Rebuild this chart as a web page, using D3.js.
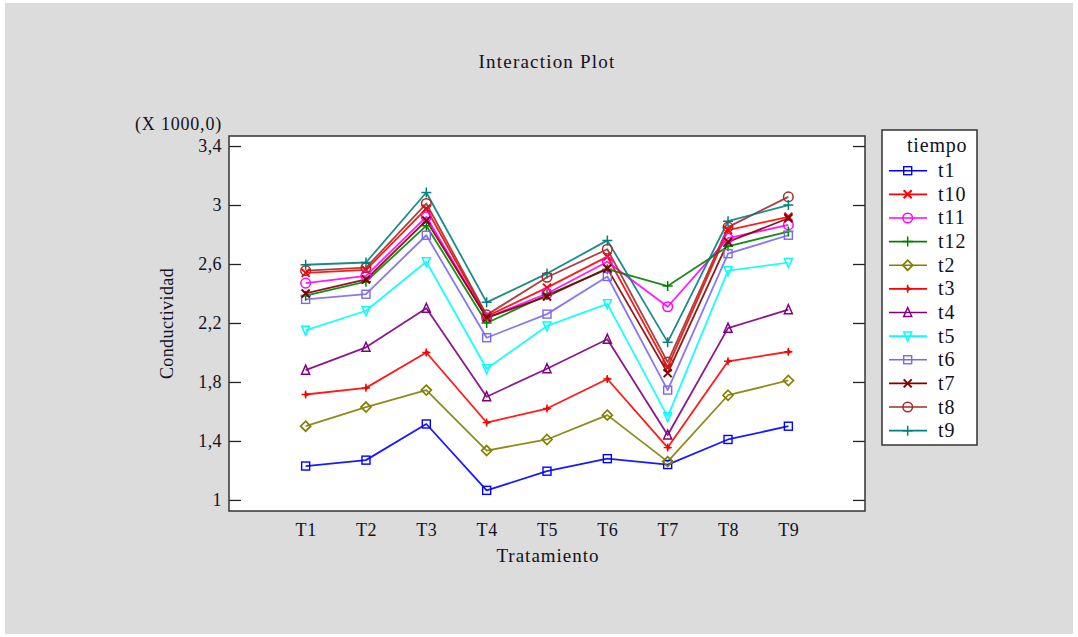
<!DOCTYPE html>
<html>
<head>
<meta charset="utf-8">
<script src="https://cdn.jsdelivr.net/npm/d3@7"></script>
<style>
  html, body { margin: 0; padding: 0; background: #ffffff; }
  svg { display: block; }
  text { font-family: "Liberation Serif", "Times New Roman", serif; fill: #111122; }
</style>
</head>
<body>
<svg id="chart" width="1078" height="637"></svg>
<script>
// ---------- data ----------
const categories = ["T1", "T2", "T3", "T4", "T5", "T6", "T7", "T8", "T9"];
const seriesNames = ["t1", "t10", "t11", "t12", "t2", "t3", "t4", "t5", "t6", "t7", "t8", "t9"];
const t1  = [1.23, 1.27, 1.515, 1.065, 1.195, 1.28, 1.24, 1.41, 1.50];
const t10 = [2.54, 2.56, 2.975, 2.245, 2.44, 2.65, 1.90, 2.83, 2.92];
const t11 = [2.47, 2.52, 2.92, 2.235, 2.40, 2.615, 2.31, 2.775, 2.865];
const t12 = [2.385, 2.48, 2.86, 2.20, 2.39, 2.565, 2.45, 2.72, 2.82];
const t2  = [1.50, 1.63, 1.745, 1.335, 1.41, 1.575, 1.26, 1.71, 1.81];
const t3  = [1.715, 1.76, 2.0, 1.525, 1.62, 1.82, 1.355, 1.94, 2.005];
const t4  = [1.88, 2.035, 2.30, 1.70, 1.89, 2.09, 1.44, 2.165, 2.29];
const t5  = [2.15, 2.283, 2.615, 1.89, 2.18, 2.33, 1.565, 2.555, 2.61];
const t6  = [2.36, 2.395, 2.795, 2.10, 2.26, 2.515, 1.745, 2.67, 2.795];
const t7  = [2.40, 2.495, 2.895, 2.235, 2.38, 2.57, 1.86, 2.75, 2.91];
const t8  = [2.555, 2.575, 3.01, 2.255, 2.51, 2.70, 1.935, 2.85, 3.055];
const t9  = [2.595, 2.61, 3.085, 2.34, 2.535, 2.76, 2.07, 2.89, 3.0];
const seriesValues = [t1, t10, t11, t12, t2, t3, t4, t5, t6, t7, t8, t9];
const seriesColors = ["#0000ff", "#ff0000", "#ff00ff", "#008000", "#808000", "#ff0000",
                      "#800080", "#00ffff", "#7b68ee", "#800000", "#a52a2a", "#008080"];
const seriesMarkers = ["square", "x", "circle", "plus", "diamond", "star",
                       "triangle", "invtriangle", "square", "x", "circle", "plus"];
const yTicks = [1, 1.4, 1.8, 2.2, 2.6, 3, 3.4];
const chartTitle = "Interaction Plot";
const xTitle = "Tratamiento";
const yTitle = "Conductividad";
const yMultiplier = "(X 1000,0)";
const legendTitle = "tiempo";

// ---------- layout ----------
const svg = d3.select("#chart");
const box = { left: 229, top: 136, right: 865, bottom: 511 };

svg.append("rect").attr("x", 5).attr("y", 3).attr("width", 1068).attr("height", 631)
  .attr("fill", "#dcdcdc");

const x = d3.scaleLinear().domain([-1.27, categories.length - 1 + 1.27]).range([box.left, box.right]);
const y = d3.scaleLinear().domain([0.925, 3.468]).range([box.bottom, box.top]);

// plot area
svg.append("rect").attr("x", box.left).attr("y", box.top)
  .attr("width", box.right - box.left).attr("height", box.bottom - box.top)
  .attr("fill", "#ffffff");

const fmt = d => d3.format("")(d).replace(".", ",");

// left axis
const yAxisL = d3.axisLeft(y).tickValues(yTicks).tickSize(-12).tickPadding(7).tickFormat(fmt);
const gL = svg.append("g").attr("transform", `translate(${box.left},0)`).call(yAxisL);
gL.select(".domain").remove();
gL.selectAll("line").attr("stroke", "#222").attr("stroke-width", 1.3);
gL.selectAll("text").style("font-size", "18px").style("font-family", "Liberation Serif")
  .style("letter-spacing", "0.4px").attr("fill", "#111122");

// right axis ticks
const yAxisR = d3.axisRight(y).tickValues(yTicks).tickSize(-12).tickFormat("");
const gR = svg.append("g").attr("transform", `translate(${box.right},0)`).call(yAxisR);
gR.select(".domain").remove();
gR.selectAll("line").attr("stroke", "#222").attr("stroke-width", 1.3);

// bottom axis labels
const xAxis = d3.axisBottom(x).tickValues(d3.range(categories.length)).tickSize(0).tickPadding(12)
  .tickFormat(i => categories[i]);
const gB = svg.append("g").attr("transform", `translate(0,${box.bottom})`).call(xAxis);
gB.select(".domain").remove();
gB.selectAll("text").style("font-size", "18px").style("font-family", "Liberation Serif")
  .style("letter-spacing", "0.6px").attr("fill", "#111122");

// markers
function marker(g, type, color) {
  const s = 4;
  if (type === "square") {
    g.append("rect").attr("x", -s).attr("y", -s).attr("width", 2 * s).attr("height", 2 * s)
      .attr("fill", "none").attr("stroke", color).attr("stroke-width", 1.4);
  } else if (type === "circle") {
    g.append("circle").attr("r", s + 0.8).attr("fill", "none").attr("stroke", color).attr("stroke-width", 1.5);
  } else if (type === "x") {
    g.append("path").attr("d", `M${-s},${-s}L${s},${s}M${-s},${s}L${s},${-s}`)
      .attr("stroke", color).attr("stroke-width", 2);
  } else if (type === "plus") {
    g.append("path").attr("d", `M${-s - 1},0L${s + 1},0M0,${-s - 1}L0,${s + 1}`)
      .attr("stroke", color).attr("stroke-width", 1.5);
  } else if (type === "diamond") {
    g.append("path").attr("d", `M0,${-s - 1}L${s + 1},0L0,${s + 1}L${-s - 1},0Z`)
      .attr("fill", "none").attr("stroke", color).attr("stroke-width", 1.7);
  } else if (type === "triangle") {
    g.append("path").attr("d", `M0,${-s - 1}L${s},${s}L${-s},${s}Z`)
      .attr("fill", "none").attr("stroke", color).attr("stroke-width", 1.5);
  } else if (type === "invtriangle") {
    g.append("path").attr("d", `M0,${s + 1}L${s},${-s}L${-s},${-s}Z`)
      .attr("fill", "none").attr("stroke", color).attr("stroke-width", 1.5);
  } else if (type === "star") {
    g.append("path").attr("d", `M${-s},0L${s},0M0,${-s}L0,${s}`)
      .attr("stroke", color).attr("stroke-width", 1.4);
    g.append("path").attr("d", `M-1,-3L${s},0L-1,3Z`).attr("fill", color);
  }
}

const line = d3.line().x((d, i) => x(i)).y(d => y(d));
const plot = svg.append("g");
seriesNames.forEach((name, k) => {
  plot.append("path").datum(seriesValues[k]).attr("d", line)
    .attr("fill", "none").attr("stroke", seriesColors[k]).attr("stroke-width", 1.8)
    .attr("stroke-opacity", 0.9).attr("stroke-linejoin", "round");
});
seriesNames.forEach((name, k) => {
  seriesValues[k].forEach((v, i) => {
    const g = plot.append("g").attr("transform", `translate(${x(i)},${y(v)})`);
    marker(g, seriesMarkers[k], seriesColors[k]);
  });
});

// plot border
svg.append("rect").attr("x", box.left).attr("y", box.top)
  .attr("width", box.right - box.left).attr("height", box.bottom - box.top)
  .attr("fill", "none").attr("stroke", "#333").attr("stroke-width", 1.5);

// titles
svg.append("text").attr("x", 547).attr("y", 68).attr("text-anchor", "middle")
  .style("font-size", "19px").style("letter-spacing", "1.2px").text(chartTitle);
svg.append("text").attr("x", 548).attr("y", 562).attr("text-anchor", "middle")
  .style("font-size", "19px").style("letter-spacing", "1px").text(xTitle);
svg.append("text").attr("transform", `translate(173,${(box.top + box.bottom) / 2}) rotate(-90)`)
  .attr("text-anchor", "middle").style("font-size", "18px").style("letter-spacing", "0.4px").text(yTitle);
svg.append("text").attr("x", 135).attr("y", 130).style("font-size", "18px")
  .style("letter-spacing", "0.8px").text(yMultiplier);

// legend
const lg = svg.append("g");
lg.append("rect").attr("x", 882).attr("y", 130).attr("width", 95).attr("height", 315)
  .attr("fill", "#ffffff").attr("stroke", "#333").attr("stroke-width", 1.5);
lg.append("text").attr("x", 907).attr("y", 152).style("font-size", "20px").style("letter-spacing", "0.8px").text(legendTitle);
seriesNames.forEach((name, k) => {
  const cy = 170.7 + k * 23.63;
  lg.append("line").attr("x1", 889).attr("x2", 927).attr("y1", cy).attr("y2", cy)
    .attr("stroke", seriesColors[k]).attr("stroke-width", 1.6);
  const g = lg.append("g").attr("transform", `translate(907.7,${cy})`);
  marker(g, seriesMarkers[k], seriesColors[k]);
  lg.append("text").attr("x", 938).attr("y", cy + 6.5).style("font-size", "20px")
    .style("letter-spacing", "1px").text(name);
});
</script>
</body>
</html>
